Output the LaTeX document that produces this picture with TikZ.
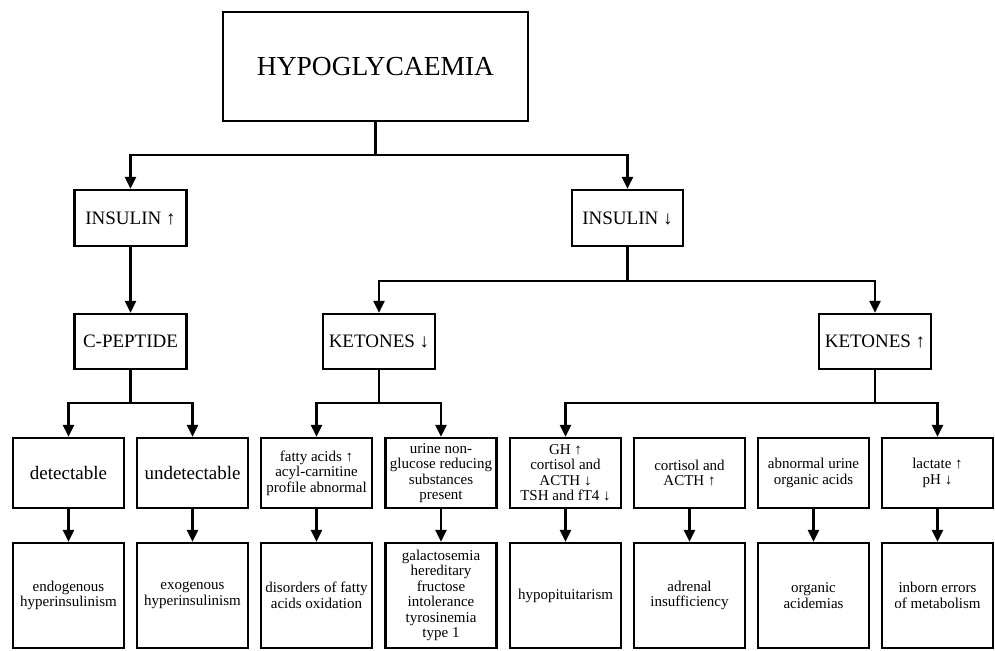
\documentclass[tikz,border=0pt]{standalone}
\usepackage{fontspec}
\setmainfont{Liberation Serif}
\usetikzlibrary{arrows.meta}
\begin{document}
\begin{tikzpicture}[x=1pt,y=-1pt,
  nbox/.style={draw, line width=2.3pt, align=center, inner sep=0pt, minimum width=111pt},
  bigf/.style={font=\fontsize{27.5}{30}\selectfont},
  midf/.style={font=\fontsize{19}{21}\selectfont},
  smallf/.style={font=\fontsize{15}{15.5}\selectfont},
  row3/.style={nbox, minimum height=70pt},
  row4/.style={nbox, smallf, minimum height=105pt},
  conn/.style={line width=2.3pt},
  arr/.style={line width=2.3pt, -{Triangle[length=12pt,width=11pt]}}
]
\useasboundingbox (0,0) rectangle (995,650);

\node[nbox, bigf, minimum width=305pt, minimum height=109pt] (hypo) at (375.5,66.5) {HYPOGLYCAEMIA};

\node[nbox, midf, minimum width=112pt, minimum height=56pt] (insU) at (130.5,218) {INSULIN ↑};
\node[nbox, midf, minimum width=111pt, minimum height=56pt] (insD) at (627.5,218) {INSULIN ↓};

\node[nbox, midf, minimum width=112pt, minimum height=55pt] (cpep) at (130.5,341.5) {C-PEPTIDE};
\node[nbox, midf, minimum width=112pt, minimum height=55pt] (ketD) at (379,341.5) {KETONES ↓};
\node[nbox, midf, minimum width=112pt, minimum height=55pt] (ketU) at (875,341.5) {KETONES ↑};

\node[row3, midf] (r1) at (68.5,473) {detectable};
\node[row3, midf] (r2) at (192.5,473) {undetectable};
\node[row3, smallf] (r3) at (316.5,473) {fatty acids ↑\\acyl-carnitine\\profile abnormal};
\node[row3, smallf] (r4) at (441,473) {urine non-\\glucose reducing\\substances\\present};
\node[row3, smallf] (r5) at (565.5,473) {GH ↑\\cortisol and\\ACTH ↓\\TSH and fT4 ↓};
\node[row3, smallf] (r6) at (689.5,473) {cortisol and\\ACTH ↑};
\node[row3, smallf] (r7) at (813.5,473) {abnormal urine\\organic acids};
\node[row3, smallf] (r8) at (937.5,473) {lactate ↑\\pH ↓};

\node[row4] (b1) at (68.5,595.5) {endogenous\\hyperinsulinism};
\node[row4] (b2) at (192.5,595.5) {exogenous\\hyperinsulinism};
\node[row4] (b3) at (316.5,595.5) {disorders of fatty\\acids oxidation};
\node[row4] (b4) at (441,595.5) {galactosemia\\hereditary\\fructose\\intolerance\\tyrosinemia\\type 1};
\node[row4] (b5) at (565.5,595.5) {hypopituitarism};
\node[row4] (b6) at (689.5,595.5) {adrenal\\insufficiency};
\node[row4] (b7) at (813.5,595.5) {organic\\acidemias};
\node[row4] (b8) at (937.5,595.5) {inborn errors\\of metabolism};

\coordinate (j0) at (375.5,155);
\draw[conn] (hypo.south) -- (j0);
\draw[arr] (j0) -| (insU.north);
\draw[arr] (j0) -| (insD.north);

\draw[arr] (insU.south) -- (cpep.north);

\coordinate (j1) at (627.5,281);
\draw[conn] (insD.south) -- (j1);
\draw[arr] (j1) -| (ketD.north);
\draw[arr] (j1) -| (ketU.north);

\coordinate (j2) at (130.5,403);
\draw[conn] (cpep.south) -- (j2);
\draw[arr] (j2) -| (r1.north);
\draw[arr] (j2) -| (r2.north);

\coordinate (j3) at (379,403);
\draw[conn] (ketD.south) -- (j3);
\draw[arr] (j3) -| (r3.north);
\draw[arr] (j3) -| (r4.north);

\coordinate (j4) at (875,403);
\draw[conn] (ketU.south) -- (j4);
\draw[arr] (j4) -| (r5.north);
\draw[arr] (j4) -| (r8.north);

\foreach \i in {1,...,8} {
  \draw[arr] (r\i.south) -- (b\i.north);
}
\end{tikzpicture}
\end{document}
